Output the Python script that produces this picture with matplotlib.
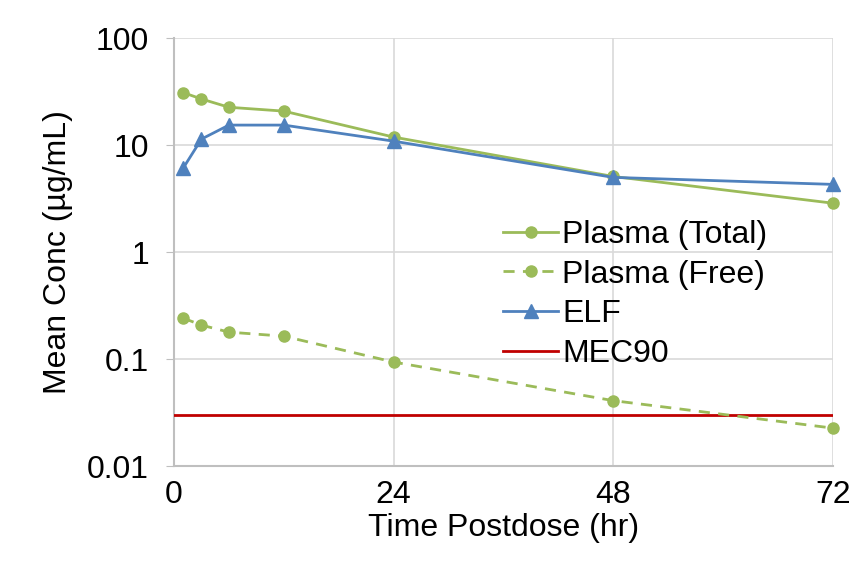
import matplotlib.pyplot as plt

plt.rcParams['font.family'] = ['Liberation Sans', 'DejaVu Sans']

# Time postdose (hr) and mean concentrations (ug/mL)
time_hr = [1, 3, 6, 12, 24, 48, 72]
plasma_total = [31, 27, 22.6, 20.8, 11.9, 5.1, 2.87]
plasma_free = [0.242, 0.208, 0.179, 0.164, 0.094, 0.041, 0.0227]
elf = [6.1, 11.4, 15.4, 15.4, 10.9, 5.0, 4.3]
mec90 = 0.030

green = '#9bbb59'
blue = '#4f81bd'
red = '#c00000'

fig = plt.figure(figsize=(8.51, 5.61), dpi=100)
ax = fig.add_axes([0.2045, 0.169, 0.774, 0.763])

ax.plot(time_hr, plasma_total, color=green, lw=2, marker='o', ms=8,
        label='Plasma (Total)', clip_on=False, zorder=4)
ax.plot(time_hr, plasma_free, color=green, lw=2, ls=(0, (4, 3)), marker='o', ms=8,
        label='Plasma (Free)', clip_on=False, zorder=4)
ax.plot(time_hr, elf, color=blue, lw=2, marker='^', ms=10,
        label='ELF', clip_on=False, zorder=5)
ax.plot([0, 72], [mec90, mec90], color=red, lw=2, label='MEC90', zorder=3)

ax.set_yscale('log')
ax.set_ylim(0.01, 100)
ax.set_xlim(0, 72)
ax.set_xticks([0, 24, 48, 72])
ax.set_yticks([0.01, 0.1, 1, 10, 100])
ax.set_yticklabels(['0.01', '0.1', '1', '10', '100'])
ax.minorticks_off()

ax.grid(True, color='#d9d9d9', lw=1.2)
ax.set_axisbelow(True)
for s in ['top', 'right']:
    ax.spines[s].set_visible(False)
for s in ['left', 'bottom']:
    ax.spines[s].set_color('#bfbfbf')
    ax.spines[s].set_linewidth(1.5)
ax.tick_params(axis='both', labelsize=23, length=6, color='#bfbfbf', pad=12)
ax.tick_params(axis='x', length=0, pad=10)

ax.set_xlabel('Time Postdose (hr)', fontsize=23, labelpad=2)
ax.set_ylabel('Mean Conc (µg/mL)', fontsize=23, labelpad=10)

ax.legend(loc='upper left', bbox_to_anchor=(0.5, 0.575), frameon=False,
          fontsize=23, handlelength=1.7, handletextpad=0.15, labelspacing=0.3,
          borderaxespad=0, borderpad=0)

fig.savefig('out.png', dpi=100)
